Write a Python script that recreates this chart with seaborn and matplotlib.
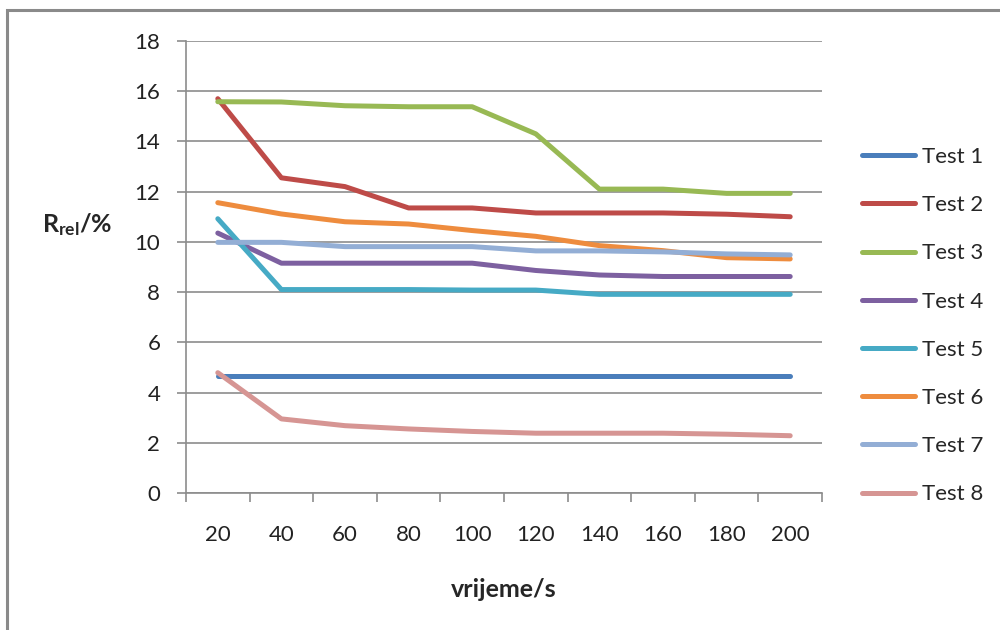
import matplotlib
matplotlib.use("Agg")
import matplotlib.pyplot as plt
import seaborn as sns
import pandas as pd
import numpy as np
from matplotlib.patches import Rectangle
from matplotlib.ticker import MultipleLocator, FixedLocator

time_s = [20, 40, 60, 80, 100, 120, 140, 160, 180, 200]
test1 = [4.65, 4.65, 4.65, 4.65, 4.65, 4.65, 4.65, 4.65, 4.65, 4.65]
test2 = [15.7, 12.55, 12.2, 11.35, 11.35, 11.15, 11.15, 11.15, 11.1, 11.0]
test3 = [15.58, 15.57, 15.42, 15.38, 15.38, 14.3, 12.1, 12.1, 11.93, 11.93]
test4 = [10.35, 9.15, 9.15, 9.15, 9.15, 8.86, 8.68, 8.62, 8.62, 8.62]
test5 = [10.92, 8.1, 8.1, 8.1, 8.08, 8.08, 7.91, 7.91, 7.91, 7.91]
test6 = [11.56, 11.11, 10.8, 10.71, 10.45, 10.22, 9.85, 9.65, 9.37, 9.32]
test7 = [9.98, 9.98, 9.81, 9.81, 9.81, 9.64, 9.64, 9.6, 9.52, 9.48]
test8 = [4.79, 2.95, 2.68, 2.55, 2.45, 2.38, 2.38, 2.38, 2.34, 2.28]
series_names = ["Test 1", "Test 2", "Test 3", "Test 4", "Test 5", "Test 6", "Test 7", "Test 8"]
series_values = [test1, test2, test3, test4, test5, test6, test7, test8]
colors = ["#4A7EBB", "#BE4B48", "#98B954", "#7D60A0", "#46AAC5", "#EE8C3E", "#93AED5", "#D69593"]

rows = []
for name, vals in zip(series_names, series_values):
    for t, v in zip(time_s, vals):
        rows.append({"vrijeme": t, "R": v, "serija": name})
df = pd.DataFrame(rows)

sns.set_style("white")
plt.rcParams["font.family"] = ["Lato", "DejaVu Sans"]
plt.rcParams["mathtext.fontset"] = "custom"
plt.rcParams["mathtext.rm"] = "Lato"
plt.rcParams["mathtext.bf"] = "Lato:bold"

fig = plt.figure(figsize=(10, 6.3), dpi=100)
ax = fig.add_axes([0.186, 0.2175, 0.636, 0.7175])

sns.lineplot(data=df, x="vrijeme", y="R", hue="serija", palette=colors,
             hue_order=series_names, linewidth=3.6, ax=ax, legend=False,
             solid_capstyle="round", solid_joinstyle="round")

ax.set_xlim(10, 210)
ax.set_ylim(0, 18)
ax.yaxis.set_major_locator(MultipleLocator(2))
ax.set_xticks(time_s)
ax.set_xticklabels([str(t) for t in time_s])
ax.xaxis.set_minor_locator(FixedLocator(list(range(10, 211, 20))))
ax.tick_params(axis="x", which="major", length=0, pad=23, labelsize=16, colors="#222222")
ax.tick_params(axis="x", which="minor", length=6.5, width=1.2, color="#8c8c8c", direction="out", bottom=True)
ax.tick_params(axis="y", which="major", length=6.5, width=1.2, color="#8c8c8c", direction="out",
               left=True, pad=12, labelsize=16, labelcolor="#222222")
ax.grid(axis="y", color="#8c8c8c", linewidth=1.2)
ax.grid(axis="x", visible=False)
ax.set_axisbelow(True)
for s in ["top", "right"]:
    ax.spines[s].set_visible(False)
for s in ["left", "bottom"]:
    ax.spines[s].set_color("#8c8c8c")
    ax.spines[s].set_linewidth(1.2)

ax.set_xlabel("vrijeme/s", fontsize=18, fontweight="bold", labelpad=24)
ax.set_ylabel(r"$\mathbf{R_{rel}/\%}$", fontsize=18, rotation=0, va="center", ha="center")
ax.yaxis.set_label_coords(-0.171, 0.593)

handles = [plt.Line2D([0], [0], color=c, linewidth=3.6, solid_capstyle="round") for c in colors]
fig.legend(handles, series_names, loc="upper left", bbox_to_anchor=(0.853, 0.781),
           frameon=False, fontsize=16, handlelength=2.4, handletextpad=0.3,
           labelspacing=1.27, borderaxespad=0)

fig.patches.append(Rectangle((7 / 1000, -0.1), 1.2, 1 - 10 / 630 + 0.1, transform=fig.transFigure,
                             fill=False, edgecolor="#8a8a8a", linewidth=2.2))

fig.savefig("out.png", dpi=100)
